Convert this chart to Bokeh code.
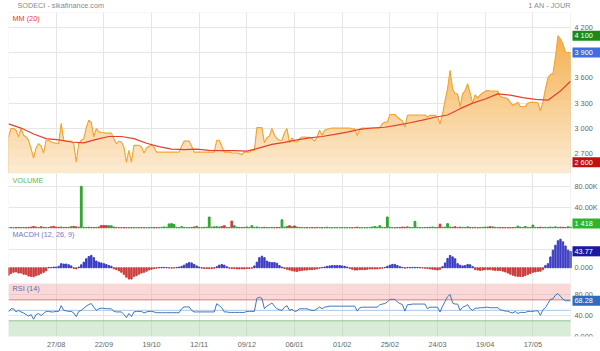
import numpy as np
from bokeh.plotting import figure
from bokeh.layouts import column
from bokeh.models import Range1d, FixedTicker, Label, BoxAnnotation
from bokeh.core.properties import value
from bokeh.embed import file_html
from bokeh.resources import INLINE

# ---------------- data ----------------
price = [
    2900, 3000, 3000, 2980, 2900, 3000, 2920, 2900, 2860, 2760,
    2650, 2770, 2820, 2790, 2710, 2860, 2860, 2840, 2830, 2825,
    2820, 3060, 2860, 2850, 2850, 2850, 2820, 2600, 2820, 2860,
    2880, 3010, 3100, 3070, 2900, 3000, 2960, 2955, 2950, 2945,
    2945, 2945, 2880, 2820, 2850, 2840, 2780, 2600, 2740, 2600,
    2800, 2800, 2800, 2780, 2710, 2770, 2790, 2800, 2780, 2720,
    2720, 2720, 2720, 2720, 2720, 2720, 2720, 2720, 2720, 2790,
    2850, 2850, 2850, 2790, 2720, 2720, 2720, 2720, 2720, 2720,
    2720, 2720, 2720, 2860, 2860, 2790, 2720, 2720, 2720, 2710,
    2710, 2710, 2705, 2690, 2720, 2720, 2720, 2740, 2740, 3010,
    3010, 3010, 2830, 2890, 2910, 3000, 2920, 2880, 2860, 2860,
    2950, 3000, 2830, 2890, 2840, 2840, 2880, 2900, 2900, 2895,
    2895, 2880, 2850, 2900, 2980, 2920, 2980, 2990, 3000, 3005,
    3005, 3005, 3005, 3005, 3005, 3005, 3005, 2995, 2995, 2915,
    2995, 3005, 3005, 3005, 3005, 3005, 3005, 3005, 3005, 3060,
    3075, 3075, 3165, 3165, 3165, 3135, 3110, 3090, 3015, 3155,
    3160, 3160, 3160, 3160, 3160, 3160, 3160, 3135, 3155, 3155,
    3155, 3135, 3055, 3170, 3330, 3470, 3690, 3470, 3410, 3410,
    3260, 3410, 3450, 3530, 3420, 3300, 3400, 3360, 3400, 3420,
    3440, 3450, 3445, 3445, 3445, 3445, 3380, 3370, 3365, 3350,
    3310, 3275, 3290, 3310, 3260, 3260, 3260, 3300, 3310, 3310,
    3310, 3305, 3210, 3310, 3470, 3600, 3640, 3650, 3850, 4100,
    4060, 4000, 3900, 3900, 3900,
]

mm20_idx = [0, 5, 10, 15, 20, 25, 30, 35, 40, 45, 50, 55, 60, 65, 70, 75, 80, 85,
            90, 95, 100, 105, 110, 115, 120, 125, 130, 135, 140, 145, 150, 155, 160,
            165, 170, 175, 180, 185, 190, 195, 200, 205, 210, 215, 220, 224]
mm20 = [3054, 3005, 2935, 2880, 2865, 2840, 2830, 2872, 2905, 2905, 2880, 2825,
        2785, 2755, 2750, 2755, 2740, 2738, 2738, 2732, 2770, 2812, 2835, 2865,
        2890, 2905, 2930, 2958, 2990, 3006, 3015, 3040, 3068, 3100, 3133, 3160,
        3235, 3300, 3350, 3410, 3395, 3365, 3345, 3335, 3445, 3560]

volume = [
    300, 500, 200, 400, 800, 300, 600, 200, 900, 1200, 2500, 1500, 600, 2000, 900,
    400, 700, 1800, 2800, 1200, 900, 1500, 600, 800, 1000, 2200, 2600, 1800, 1200, 80500,
    600, 900, 1100, 700, 500, 800, 1500, 4300, 4500, 4200, 4000, 3800, 1200, 600, 400,
    300, 500, 200, 400, 300, 200, 500, 300, 200, 400, 300, 200, 600, 400, 300,
    500, 900, 1600, 1200, 7500, 8000, 6500, 700, 500, 2200, 800, 600, 400, 700, 1600,
    3000, 500, 400, 900, 1100, 20900, 1300, 1800, 2200, 1500, 2400, 4000, 900, 600, 13000,
    4000, 1200, 800, 600, 900, 1500, 700, 4200, 800, 1600, 500, 300, 900, 600, 400,
    800, 300, 500, 700, 15500, 1200, 2500, 4000, 2000, 3500, 1500, 900, 600, 400, 300,
    200, 500, 300, 800, 600, 200, 400, 1100, 300, 200, 500, 300, 200, 400, 300,
    200, 300, 200, 500, 1200, 300, 200, 400, 300, 500, 1500, 2500, 1200, 4000, 700,
    500, 21000, 800, 400, 300, 600, 500, 1400, 900, 1800, 700, 600, 12500, 900, 500,
    400, 700, 600, 1000, 1500, 800, 500, 7000, 900, 1200, 8000, 1500, 900, 2000, 700,
    1200, 900, 600, 1800, 500, 400, 800, 300, 600, 900, 1200, 1500, 2200, 1800, 900,
    400, 300, 500, 200, 400, 300, 600, 800, 3200, 1200, 700, 2500, 900, 600, 5200,
    800, 500, 1200, 600, 900, 700, 1500, 900, 1800, 700, 1200, 900, 600, 2000, 1418,
]

macdh = [
    -20, -15, -12, -11, -14, -14, -17, -18, -22, -23,
    -24, -21, -19, -15, -12, -8, 1, 1, 2, 2,
    4, 11, 10, 10, 8, 5, -2, -3, 2, 8,
    15, 24, 30, 33, 27, 18, 15, 13, 11, 9,
    6, 4, -3, -5, -8, -12, -18, -25, -30, -30,
    -23, -21, -17, -14, -12, -9, -6, -4, -2, -1,
    0.5, 1, 1, 0.5, -0.5, -1, -0.5, 1, 2, 4,
    7, 11, 14, 13, 9, 5, 2, -1, -2, -2,
    -2, -2, -1, 3, 7, 9, 7, 3, -1, -2,
    -2, -3, -3, -3, -3, -2, -2, -1, 5, 15,
    27, 31, 27, 18, 15, 14, 14, 12, 6, 2,
    -2, -4, -6, -8, -9, -10, -8, -7, -6, -6,
    -5, -5, -4, -3, -1, 1, 2, 4, 5, 6,
    6, 6, 6, 5, 4, 2, -2, -4, -6, -6,
    -5, -5, -5, -4, -3, -3, -3, -3, -2, -1,
    1, 4, 7, 9, 9, 6, 3, 1, -1, 0.5,
    1, 1, 1, 1, 0.5, -0.5, -1, -2, -3, -4,
    -5, -6, -4, 3, 13, 25, 33, 29, 24, 11,
    7, 5, 6, 9, 8, 3, -5, -6, -7, -6,
    -5, -5, -5, -6, -7, -7, -7, -9, -11, -14,
    -17, -20, -22, -23, -23, -23, -21, -18, -15, -12,
    -11, -10, -9, -5, 6, 11, 29, 47, 60, 72,
    76, 69, 58, 47, 43.77,
]

rsi = [
    47, 53, 53, 47, 50, 47, 45, 42, 39, 42,
    33, 42, 44, 40, 44, 48, 48, 47, 47, 48,
    48, 59, 50, 49, 48, 48, 45, 38, 48, 50,
    54, 58, 61, 63, 56, 50, 53, 54, 54, 53,
    53, 53, 48, 47, 47, 47, 42, 36, 44, 38,
    47, 48, 48, 48, 45, 47, 48, 48, 47, 45.5,
    45.5, 45.5, 45.5, 45.5, 45.5, 45.5, 45.5, 45.5, 45.5, 53,
    56.5, 56.5, 56.5, 50, 47, 47, 47, 47, 47, 47,
    47, 47, 47, 62.7, 59, 55, 47, 47, 46, 46,
    46, 46, 46, 46, 46, 48, 48, 48, 48, 73,
    75, 73, 53, 58, 61, 64, 58, 53, 51, 50,
    56, 59, 50, 52, 48, 49, 53, 53, 53, 53,
    51, 50, 50, 53, 56.5, 53, 56, 57, 58, 58,
    58, 58, 58, 58, 58, 58, 58, 58, 58, 48.5,
    55, 56, 56, 56, 56, 56, 56, 56, 60.8, 62,
    63, 66, 71, 71, 71, 66, 63, 61, 48.5, 60.8,
    61, 62, 62, 62, 62, 62, 62, 53, 56, 56,
    56, 56, 46.7, 58, 67, 76, 80.5, 64, 62, 62,
    50, 56, 58, 61, 53, 50, 54, 54, 55, 55,
    56, 56, 55, 55, 55, 55, 51, 50, 48.5, 48.5,
    46, 45, 48, 44, 46, 46, 46, 48, 48, 48,
    49, 49, 40.5, 51, 55, 63, 71, 72, 79, 82,
    77, 71, 68.3, 68.3, 68.28,
]

tick_idx = [19, 38, 57, 76, 95, 114, 133, 152, 171, 190, 209]
tick_labels = ["27/08", "22/09", "19/10", "12/11", "09/12", "06/01",
               "01/02", "25/02", "24/03", "19/04", "17/05"]
price_ticks = [2700, 3000, 3300, 3600, 3900, 4200]
price_tick_labels = ["2 700", "3 000", "3 300", "3 600", "3 900", "4 200"]
vol_ticks = [40000, 80000]
vol_tick_labels = ["40.00K", "80.00K"]
macd_ticks = [0, 50]
macd_tick_labels = ["0.000", "50.00"]
rsi_ticks = [0, 40, 80]
rsi_tick_labels = ["0.000", "40.00", "80.00"]

# ---------------- styling ----------------
FONT = "Liberation Sans"
FS = "7.3px"
GRID = "#e6e6e6"
OUTLINE = "#d4d4d4"
LAST = len(price) - 1
PXU = 562 / LAST            # pixels per trading day in the data area
XEND = LAST + 30 / PXU      # right label column (30 px) inside the frame
BOX_X = LAST + 16 / PXU     # centre of the value boxes

x = np.arange(len(price))
xr = Range1d(0, XEND)


def sp(v):
    return f"{int(round(v)):,}".replace(",", " ")


def panel(h, yr, ticks, labels, top=0, bottom=0):
    p = figure(width=600, height=h, x_range=xr, y_range=yr,
               output_backend="svg", toolbar_location=None,
               min_border_left=8, min_border_right=0,
               min_border_top=top, min_border_bottom=bottom)
    p.outline_line_color = None
    p.background_fill_color = "white"
    p.border_fill_color = "white"
    p.yaxis.visible = False
    p.xgrid.ticker = FixedTicker(ticks=tick_idx)
    p.xgrid.grid_line_color = GRID
    p.ygrid.ticker = FixedTicker(ticks=ticks)
    p.ygrid.grid_line_color = GRID
    try:
        p.ygrid.cross_bounds = (0, LAST)
    except Exception:
        pass
    p.add_layout(BoxAnnotation(left=0, right=LAST, fill_color=None,
                               line_color=OUTLINE, line_width=1))
    p.text(x=[LAST] * len(ticks), y=ticks, text=labels, x_offset=4,
           text_baseline="middle", text_align="left", text_font=value(FONT),
           text_font_size=value(FS), text_color="#666666")
    return p


def box(p, yv, text, color):
    p.rect(x=[BOX_X], y=[yv], width=28, height=10, width_units="screen",
           height_units="screen", fill_color=color, line_color=None)
    p.text(x=[LAST], y=[yv], text=[text], x_offset=4, text_baseline="middle",
           text_align="left", text_font=value(FONT), text_font_size=value(FS),
           text_color="white")


def tag(p, xs, ys, text, color):
    p.add_layout(Label(x=xs, y=ys, x_units="screen", y_units="screen", text=text,
                       text_color=color, text_font=FONT, text_font_size=FS,
                       text_baseline="middle", text_align="left"))


# ---------------- header ----------------
ph = figure(width=600, height=12, x_range=Range1d(0, 600), y_range=Range1d(0, 12),
            output_backend="svg", toolbar_location=None, min_border=0)
ph.axis.visible = False
ph.grid.visible = False
ph.outline_line_color = None
ph.text(x=[9], y=[6.7], text=["SODECI - sikafinance.com"], text_baseline="middle",
        text_align="left", text_font=value(FONT), text_font_size=value(FS),
        text_color="#8a8a8a")
ph.text(x=[570], y=[6.7], text=["1 AN - JOUR"], text_baseline="middle",
        text_align="right", text_font=value(FONT), text_font_size=value(FS),
        text_color="#8a8a8a")

# ---------------- price panel ----------------
y_lo, y_hi = 2467, 4374
p1 = panel(161, Range1d(y_lo, y_hi), price_ticks, price_tick_labels)
p1.xaxis.visible = False
pr = np.array(price, dtype=float)
c_top = np.array([245, 178, 84])
c_bot = np.array([253, 238, 216])
pmax = pr.max()
for e in np.linspace(y_lo, pmax, 18)[1:][::-1]:
    f = (e - y_lo) / (pmax - y_lo)
    c = c_bot + (c_top - c_bot) * f
    p1.varea(x=x, y1=y_lo, y2=np.minimum(pr, e),
             fill_color="#%02x%02x%02x" % tuple(int(v) for v in c))
p1.line(x, pr, line_color="#f2a534", line_width=1.1)
p1.line(mm20_idx, mm20, line_color="#e4402c", line_width=1.2)
tag(p1, 4, 155.5, "MM (20)", "#e0402c")
box(p1, pmax, sp(pmax), "#1b8a1b")
box(p1, pr[-1], sp(pr[-1]), "#3d6fe0")
box(p1, pr.min(), sp(pr.min()), "#c21111")

# ---------------- volume panel ----------------
v_lo, v_hi = -3300, 105400
p2 = panel(56, Range1d(v_lo, v_hi), vol_ticks, vol_tick_labels)
p2.xaxis.visible = False
vol_colors = ["#2fa52f" if (i == 0 or price[i] >= price[i - 1]) else "#d23a3a"
              for i in range(len(price))]
p2.vbar(x=x, top=volume, bottom=0, width=0.7, color=vol_colors)
tag(p2, 4, 49.5, "VOLUME", "#5cb85c")
v_per_px = (v_hi - v_lo) / 56
box(p2, max(volume[-1], v_lo + 6 * v_per_px), sp(volume[-1]), "#2eb52e")

# ---------------- MACD histogram panel ----------------
p3 = panel(54, Range1d(-41.8, 101.9), macd_ticks, macd_tick_labels)
p3.xaxis.visible = False
macd_colors = ["#3b3bc4" if v >= 0 else "#cc3b3b" for v in macdh]
p3.vbar(x=x, top=macdh, bottom=0, width=0.55, color=macd_colors)
tag(p3, 4, 49, "MACDH (12, 26, 9)", "#7878c4")
box(p3, macdh[-1], f"{macdh[-1]:.2f}", "#1a1a9e")

# ---------------- RSI panel ----------------
p4 = panel(68, Range1d(0, 101.3), rsi_ticks, rsi_tick_labels, bottom=13)
p4.add_layout(BoxAnnotation(bottom=70, top=101.3, left=0, right=LAST, fill_color="#f7a8a8",
                            fill_alpha=0.45, line_color=None, level="underlay"))
p4.add_layout(BoxAnnotation(bottom=0, top=30, left=0, right=LAST, fill_color="#a8d4a8",
                            fill_alpha=0.45, line_color=None, level="underlay"))
p4.segment(x0=[0, 0, 0], y0=[70, 30, 50], x1=[LAST] * 3, y1=[70, 30, 50],
           line_color=["#e57a7a", "#93c493", "#a9c8ea"], line_width=1)
p4.line(x, rsi, line_color="#3f74b9", line_width=1)
tag(p4, 4, 48, "RSI (14)", "#5a6cae")
box(p4, rsi[-1], f"{rsi[-1]:.2f}", "#2d6cc0")
xa = p4.xaxis[0]
xa.ticker = FixedTicker(ticks=tick_idx)
xa.major_label_overrides = dict(zip(tick_idx, tick_labels))
xa.axis_line_color = None
xa.major_tick_line_color = None
xa.minor_tick_line_color = None
xa.major_tick_out = 0
xa.major_tick_in = 0
xa.major_label_standoff = 3
xa.major_label_text_font = FONT
xa.major_label_text_font_size = FS
xa.major_label_text_color = "#666666"

layout = column(ph, p1, p2, p3, p4, spacing=0)
open("out.html", "w").write(file_html(layout, INLINE))
